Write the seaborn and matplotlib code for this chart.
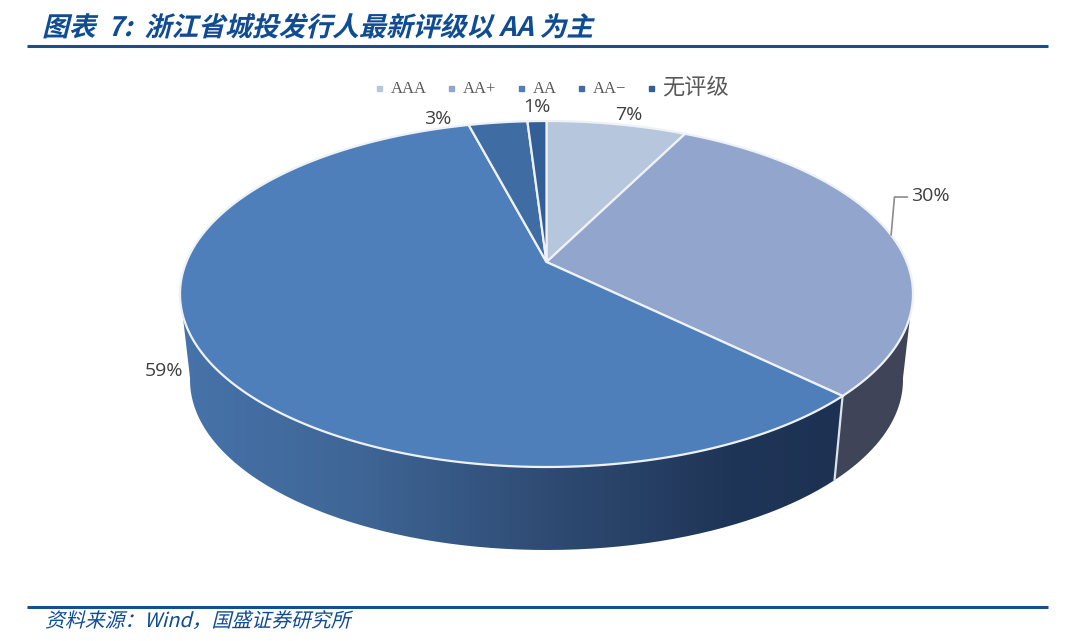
"""Zhejiang LGFV issuers by latest rating: perspective 3D pie, drawn in pixel-like axes."""
import matplotlib

matplotlib.use("Agg")
import matplotlib.pyplot as plt
import numpy as np
import seaborn as sns
from matplotlib.colors import LinearSegmentedColormap
from matplotlib.lines import Line2D
from matplotlib.patches import PathPatch, Polygon
from matplotlib.path import Path
from matplotlib.patheffects import AbstractPathEffect
from matplotlib.transforms import Affine2D

TITLE = "图表  7:  浙江省城投发行人最新评级以 AA 为主"
SOURCE = "资料来源：Wind，国盛证券研究所"

RATINGS = ["AAA", "AA+", "AA", "AA−", "无评级"]
SHARES = [7.4, 29.9, 58.6, 3.1, 1.0]
LABELS = ["7%", "30%", "59%", "3%", "1%"]
TOP_COLORS = ["#b6c6dc", "#92a5cd", "#4e7fbb", "#3f6ca3", "#335f96"]

NAVY = "#0f4c92"
TEXT_GREY = "#404040"

# Pie geometry (pixels): top ellipse, lower rim, and how far the hub sits above the ellipse centre
TOP = dict(cx=546.5, cy=294, rx=366.5, ry=173)
RIM = dict(cx=546.5, cy=380, rx=356.5, ry=170)
HUB = 0.185

# label offsets from the wedge's rim midpoint, in pixels
LABEL_OFFSETS = [(12, 9), (39, 39), (-39, -16), (-60, 4), (0, 14)]


class Slant(AbstractPathEffect):
    """Fake italic for CJK fonts that have no oblique face."""

    def __init__(self, deg=14):
        super().__init__()
        self.deg = deg

    def draw_path(self, renderer, gc, tpath, affine, rgbFace=None):
        renderer.draw_path(gc, tpath, Affine2D().skew_deg(self.deg, 0) + affine, rgbFace)


def rim_points(theta, ell):
    """Project angles (clockwise from top) on a circle to the ellipse, hub displaced."""
    t = np.radians(theta)
    x, y = np.sin(t), np.cos(t)
    denom = 1 + HUB * y
    px = x * np.sqrt(1 - HUB**2) / denom
    py = (y + HUB) / denom
    return np.column_stack([ell["cx"] + ell["rx"] * px, ell["cy"] - ell["ry"] * py])


def draw_side(ax, start, end, cmap):
    # 100 and 260 degrees are about where the wall's silhouette leaves the top ellipse
    theta = np.linspace(max(start, 100), min(end, 260), 200)
    outline = np.vstack([rim_points(theta, TOP), rim_points(theta[::-1], RIM)])
    grad = np.linspace(0, 1, 512)[None, :]
    im = ax.imshow(grad, cmap=cmap, extent=(180, 915, 560, 100), aspect="auto", zorder=1)
    im.set_clip_path(PathPatch(Path(outline), transform=ax.transData))


def main():
    sns.set_theme(style="white")
    plt.rcParams["font.family"] = ["Noto Sans CJK SC", "DejaVu Sans"]
    palette = sns.color_palette(TOP_COLORS)

    fig = plt.figure(figsize=(10.8, 6.41), dpi=100)
    ax = fig.add_axes([0, 0, 1, 1])

    edges = np.cumsum([0] + SHARES) / sum(SHARES) * 360

    # side walls, only AA+ and AA can be seen from the front
    aa_plus_cmap = LinearSegmentedColormap.from_list("aap", ["#3f4458", "#3f4458"])
    aa_cmap = LinearSegmentedColormap.from_list(
        "aa", ["#4773aa", "#3e6595", "#2f4b73", "#1f3557", "#1c3050"]
    )
    draw_side(ax, edges[1], edges[2], aa_plus_cmap)
    draw_side(ax, edges[2], edges[3], aa_cmap)

    seam = np.vstack([rim_points(edges[2], TOP), rim_points(edges[2], RIM)])
    ax.plot(seam[:, 0], seam[:, 1], color="#dde3ec", lw=1.6, zorder=2)

    # top face
    hub = (TOP["cx"], TOP["cy"] - TOP["ry"] * HUB)
    for i, color in enumerate(palette):
        theta = np.linspace(edges[i], edges[i + 1], 200)
        pts = np.vstack([[hub], rim_points(theta, TOP)])
        ax.add_patch(Polygon(pts, closed=True, facecolor=color, edgecolor="#eef2f7", lw=1.6, zorder=3))

    # value labels
    mids = (edges[:-1] + edges[1:]) / 2
    for i, label in enumerate(LABELS):
        anchor = rim_points(mids[i], TOP)[0]
        arrow = None
        if label == "30%":
            arrow = dict(arrowstyle="-", color="#8c8c8c", lw=1.2, shrinkA=0, shrinkB=0,
                         connectionstyle="angle,angleA=180,angleB=85,rad=0", relpos=(0, 0.45))
        ax.annotate(label, xy=anchor, xytext=LABEL_OFFSETS[i], textcoords="offset pixels",
                    ha="center", va="center", fontsize=14, color=TEXT_GREY,
                    family=["Open Sans", "DejaVu Sans"], arrowprops=arrow, zorder=5)

    # legend
    handles = [
        Line2D([], [], linestyle="none", marker="s", markersize=3.6, color=c) for c in palette
    ]
    legend = ax.legend(handles, RATINGS, ncol=5, loc="center", bbox_to_anchor=(550, 88),
                       bbox_transform=ax.transData, frameon=False, labelcolor="#595959",
                       handletextpad=0.22, columnspacing=0.95, handlelength=1.0,
                       prop=dict(family=["Liberation Serif", "Noto Sans CJK SC"], size=12))
    legend.get_texts()[-1].set_fontsize(16)

    # header and footer
    ax.text(42, 36, TITLE, fontsize=19.3, fontweight="bold", color=NAVY, ha="left",
            va="baseline", path_effects=[Slant()])
    ax.text(45, 627, SOURCE, fontsize=14.3, color=NAVY, ha="left", va="baseline",
            path_effects=[Slant()])
    for y in (46, 607):
        ax.plot([27, 1048], [y, y], color="#17508f", lw=2.2, solid_capstyle="butt", zorder=4)

    ax.set_xlim(0, 1080)
    ax.set_ylim(641, 0)
    ax.axis("off")
    fig.savefig("out.png", dpi=100, facecolor="white")
    plt.close(fig)


if __name__ == "__main__":
    main()
